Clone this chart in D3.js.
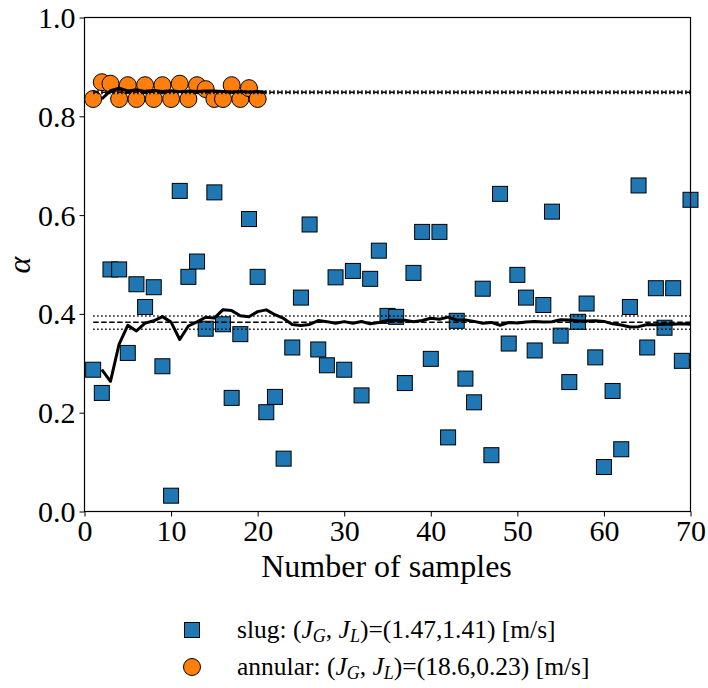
<!DOCTYPE html>
<html>
<head>
<meta charset="utf-8">
<script src="https://cdn.jsdelivr.net/npm/d3@7"></script>
<style>
  body { margin: 0; background: #fff; }
  svg { display: block; }
  text { font-family: "Liberation Serif", "DejaVu Serif", serif; fill: #000; }
</style>
</head>
<body>
<svg id="chart" width="708" height="688"></svg>
<script>
// Void fraction per sample, slug flow (J_G, J_L) = (1.47, 1.41) m/s
const slugAlpha = [
  0.287, 0.240, 0.490, 0.490, 0.321, 0.460, 0.414, 0.454, 0.294, 0.032,
  0.649, 0.475, 0.506, 0.370, 0.646, 0.379, 0.230, 0.359, 0.592, 0.475,
  0.201, 0.232, 0.107, 0.332, 0.433, 0.581, 0.328, 0.296, 0.474, 0.287,
  0.487, 0.235, 0.471, 0.528, 0.396, 0.394, 0.260, 0.483, 0.566, 0.309,
  0.566, 0.150, 0.386, 0.269, 0.221, 0.451, 0.114, 0.643, 0.340, 0.479,
  0.433, 0.326, 0.418, 0.607, 0.356, 0.262, 0.384, 0.421, 0.312, 0.090,
  0.244, 0.126, 0.414, 0.660, 0.332, 0.452, 0.372, 0.452, 0.305, 0.631
];
// Void fraction per sample, annular flow (J_G, J_L) = (18.6, 0.23) m/s
const annularAlpha = [
  0.835, 0.869, 0.866, 0.835, 0.863, 0.835, 0.863, 0.835, 0.863, 0.835,
  0.866, 0.835, 0.863, 0.855, 0.835, 0.835, 0.863, 0.835, 0.857, 0.835
];
// Converged mean with its lower / upper confidence bounds
const slugBand = [0.369, 0.383, 0.396];
const annularBand = [0.846, 0.8485, 0.851];

const xTicks = [0, 10, 20, 30, 40, 50, 60, 70];
const yTicks = [0.0, 0.2, 0.4, 0.6, 0.8, 1.0];
const xLabel = "Number of samples";
const yLabel = "\u03B1";

const colors = { slug: "#1f77b4", annular: "#ff7f0e" };

const svg = d3.select("#chart");
const plot = { left: 84.5, right: 690.5, top: 17.5, bottom: 511.5 };

const x = d3.scaleLinear().domain([0, 70]).range([plot.left, plot.right]);
const y = d3.scaleLinear().domain([0, 1]).range([plot.bottom, plot.top]);

svg.append("defs").append("clipPath").attr("id", "plot-clip")
  .append("rect")
  .attr("x", plot.left).attr("y", plot.top)
  .attr("width", plot.right - plot.left).attr("height", plot.bottom - plot.top);

// Running mean: value at sample n+1 is the mean of the first n samples
function runningMean(values) {
  let sum = 0;
  return values.map((v, i) => { sum += v; return { n: i + 2, m: sum / (i + 1) }; });
}

const slugPts = slugAlpha.map((v, i) => ({ n: i + 1, v }));
const annPts = annularAlpha.map((v, i) => ({ n: i + 1, v }));

// Markers
const sq = 15;
svg.append("g").selectAll("rect").data(slugPts).join("rect")
  .attr("x", d => x(d.n) - sq / 2).attr("y", d => y(d.v) - sq / 2)
  .attr("width", sq).attr("height", sq)
  .attr("fill", colors.slug).attr("stroke", "#000").attr("stroke-width", 1);

svg.append("g").selectAll("circle").data(annPts).join("circle")
  .attr("cx", d => x(d.n)).attr("cy", d => y(d.v)).attr("r", 8.5)
  .attr("fill", colors.annular).attr("stroke", "#000").attr("stroke-width", 1);

// Mean and bound lines
const lines = svg.append("g").attr("clip-path", "url(#plot-clip)");
function band(b) {
  [b[0], b[2]].forEach(v => {
    lines.append("line")
      .attr("x1", x(1)).attr("x2", x(70)).attr("y1", y(v)).attr("y2", y(v))
      .attr("stroke", "#000").attr("stroke-width", 1.5).attr("stroke-dasharray", "1.5,2.5");
  });
  lines.append("line")
    .attr("x1", x(1)).attr("x2", x(70)).attr("y1", y(b[1])).attr("y2", y(b[1]))
    .attr("stroke", "#000").attr("stroke-width", 1.5).attr("stroke-dasharray", "5.5,2.5");
}
band(slugBand);
band(annularBand);

const lineGen = d3.line().x(d => x(d.n)).y(d => y(d.m));
[slugAlpha, annularAlpha].forEach(vals => {
  lines.append("path").datum(runningMean(vals))
    .attr("d", lineGen).attr("fill", "none")
    .attr("stroke", "#000").attr("stroke-width", 3).attr("stroke-linejoin", "round");
});

// Axes
const xAxis = svg.append("g").attr("transform", `translate(0,${plot.bottom})`)
  .call(d3.axisBottom(x).tickValues(xTicks).tickFormat(d3.format("d")).tickSize(5).tickPadding(3));
const yAxis = svg.append("g").attr("transform", `translate(${plot.left},0)`)
  .call(d3.axisLeft(y).tickValues(yTicks).tickFormat(d3.format(".1f")).tickSize(5).tickPadding(4));
[xAxis, yAxis].forEach(a => {
  a.select(".domain").remove();
  a.selectAll(".tick line").attr("stroke", "#000").attr("stroke-width", 1);
  a.selectAll(".tick text").attr("font-size", 30).style("font-family", '"Liberation Serif", serif');
});
xAxis.selectAll(".tick text").attr("dy", "0.72em");
yAxis.selectAll(".tick text").attr("dy", "0.33em");

// Frame
svg.append("rect")
  .attr("x", plot.left).attr("y", plot.top)
  .attr("width", plot.right - plot.left).attr("height", plot.bottom - plot.top)
  .attr("fill", "none").attr("stroke", "#000").attr("stroke-width", 1.2);

// Axis titles
svg.append("text").attr("x", (plot.left + plot.right) / 2 - 1).attr("y", 577)
  .attr("text-anchor", "middle").attr("font-size", 32).text(xLabel);
svg.append("text").attr("transform", "translate(30,265) rotate(-90)")
  .attr("text-anchor", "middle").attr("font-size", 32).attr("font-style", "italic").text(yLabel);

// Legend
const legend = svg.append("g");
const legendItems = [
  { key: "slug", name: "slug:", vals: "=(1.47,1.41) [m/s]", cy: 630 },
  { key: "annular", name: "annular:", vals: "=(18.6,0.23) [m/s]", cy: 667 }
];
legendItems.forEach(it => {
  if (it.key === "slug") {
    legend.append("rect").attr("x", 192 - sq / 2).attr("y", it.cy - sq / 2)
      .attr("width", sq).attr("height", sq)
      .attr("fill", colors.slug).attr("stroke", "#000").attr("stroke-width", 1);
  } else {
    legend.append("circle").attr("cx", 192).attr("cy", it.cy).attr("r", 8.5)
      .attr("fill", colors.annular).attr("stroke", "#000").attr("stroke-width", 1);
  }
  const t = legend.append("text").attr("x", 237).attr("y", it.cy + 8).attr("font-size", 25.5);
  t.append("tspan").text(it.name + " (");
  t.append("tspan").attr("font-style", "italic").text("J");
  t.append("tspan").attr("font-style", "italic").attr("font-size", 18).attr("dy", 4).text("G");
  t.append("tspan").attr("dy", -4).text(", ");
  t.append("tspan").attr("font-style", "italic").text("J");
  t.append("tspan").attr("font-style", "italic").attr("font-size", 18).attr("dy", 4).text("L");
  t.append("tspan").attr("dy", -4).text(")" + it.vals);
});
</script>
</body>
</html>
